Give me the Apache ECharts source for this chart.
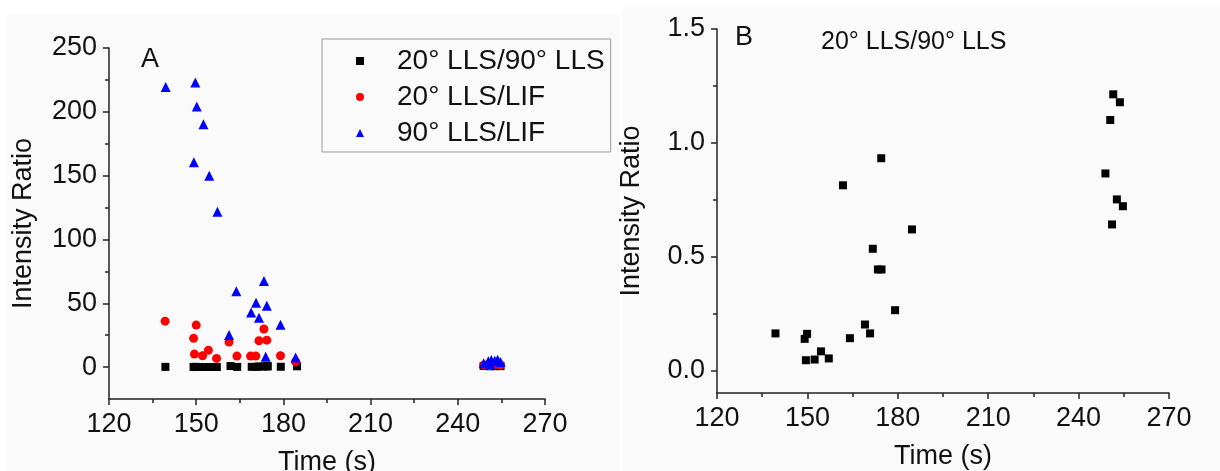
<!DOCTYPE html>
<html>
<head>
<meta charset="utf-8">
<script src="https://cdn.jsdelivr.net/npm/echarts@6/dist/echarts.min.js"></script>
<style>
  html, body { margin: 0; padding: 0; background: #fff; }
  #chart { width: 1220px; height: 471px; }
</style>
</head>
<body>
<div id="chart"></div>
<script>
// 20° LLS / 90° LLS  [time (s), ratio]  -- same data in panel A and B
var lls20_90 = [
  [139.4, 0.162], [149.1, 0.138], [149.9, 0.160], [149.5, 0.044], [152.4, 0.047],
  [154.5, 0.083], [157.1, 0.052], [161.8, 0.813], [164.1, 0.141], [169.1, 0.201],
  [170.8, 0.162], [171.7, 0.534], [173.4, 0.443], [174.5, 0.932], [174.6, 0.443],
  [179.1, 0.264], [184.7, 0.619], [248.9, 0.865], [250.5, 1.100], [251.1, 0.641],
  [251.5, 1.213], [252.7, 0.751], [253.7, 1.178], [254.7, 0.721]
];
// 20° LLS / LIF
var lls20_lif = [
  [139.3, 36.0], [150.0, 32.9], [149.1, 22.5], [149.4, 10.2], [152.2, 8.9],
  [154.2, 13.1], [157.0, 6.8], [161.3, 19.6], [164.0, 8.6], [168.7, 8.6],
  [170.5, 8.6], [171.6, 20.6], [174.3, 21.1], [173.3, 29.8], [179.0, 8.9],
  [184.2, 4.2], [248.9, 1.5], [250.5, 2.2], [251.1, 1.2], [251.5, 2.5],
  [252.7, 1.8], [253.7, 2.6], [254.7, 1.6]
];
// 90° LLS / LIF
var lls90_lif = [
  [139.5, 219.4], [149.7, 223.0], [150.2, 204.2], [152.5, 190.3], [149.2, 160.5],
  [154.5, 150.0], [157.3, 121.7], [163.8, 59.5], [173.3, 67.4], [170.6, 50.4],
  [174.3, 48.0], [168.9, 42.8], [171.6, 38.6], [179.0, 33.2], [161.3, 25.1],
  [173.9, 8.1], [184.2, 7.6], [248.9, 3.0], [250.5, 4.5], [251.1, 2.5],
  [251.5, 5.5], [252.7, 5.0], [253.7, 5.8], [254.7, 4.0]
];

var xMajor = [120, 150, 180, 210, 240, 270];
var xMinor = [135, 165, 195, 225, 255];
var yMajorA = [0, 50, 100, 150, 200, 250];
var yMinorA = [25, 75, 125, 175, 225];
var yMajorB = [0, 0.5, 1.0, 1.5];
var yMinorB = [0.25, 0.75, 1.25];

var axisColor = '#222';
var fontFamily = '"Liberation Sans", Arial, sans-serif';
var labelFont = { fontSize: 27, color: '#111', fontFamily: fontFamily };

var rectA = { left: 109, top: 48, width: 436, height: 351, outerBoundsMode: 'none' };
var rectB = { left: 717, top: 29, width: 452, height: 364, outerBoundsMode: 'none' };

function majorX(grid, name, gap) {
  return {
    type: 'value', gridIndex: grid, position: 'bottom', min: 120, max: 270,
    name: name, nameLocation: 'middle', nameGap: gap,
    nameTextStyle: labelFont,
    splitLine: { show: false },
    axisLine: { onZero: false, lineStyle: { color: axisColor, width: 1.5 } },
    axisTick: { length: 6, customValues: xMajor, lineStyle: { color: axisColor, width: 1.5 } },
    axisLabel: Object.assign({ margin: 12, customValues: xMajor }, labelFont)
  };
}
// minor ticks live on a copy of the grid, same place, ticks only
function minorX(grid) {
  return {
    type: 'value', gridIndex: grid, position: 'bottom', min: 120, max: 270,
    splitLine: { show: false },
    axisLine: { show: false, onZero: false },
    axisTick: { length: 4, customValues: xMinor, lineStyle: { color: axisColor, width: 1.5 } },
    axisLabel: { show: false }
  };
}
function majorY(grid, min, max, vals, fmt, gap) {
  return {
    type: 'value', gridIndex: grid, position: 'left', min: min, max: max,
    name: 'Intensity Ratio', nameLocation: 'middle', nameGap: gap,
    nameTextStyle: labelFont,
    splitLine: { show: false },
    axisLine: { onZero: false, lineStyle: { color: axisColor, width: 1.5 } },
    axisTick: { length: 6, customValues: vals, lineStyle: { color: axisColor, width: 1.5 } },
    axisLabel: Object.assign({ margin: 12, customValues: vals, formatter: fmt }, labelFont)
  };
}
function minorY(grid, min, max, vals) {
  return {
    type: 'value', gridIndex: grid, position: 'left', min: min, max: max,
    splitLine: { show: false },
    axisLine: { show: false, onZero: false },
    axisTick: { length: 4, customValues: vals, lineStyle: { color: axisColor, width: 1.5 } },
    axisLabel: { show: false }
  };
}

var chart = echarts.init(document.getElementById('chart'));
chart.setOption({
  animation: false,
  backgroundColor: '#fff',
  textStyle: { fontFamily: fontFamily },
  graphic: [
    { type: 'rect', z: -10, shape: { x: 7, y: 14, width: 613, height: 457 }, style: { fill: '#fafafa' } },
    { type: 'rect', z: -10, shape: { x: 622, y: 7, width: 598, height: 464 }, style: { fill: '#fafafa' } },
    { type: 'text', left: 141, top: 46, style: { text: 'A', fontSize: 27, fill: '#111', fontFamily: fontFamily } },
    { type: 'text', left: 735, top: 24, style: { text: 'B', fontSize: 27, fill: '#111', fontFamily: fontFamily } },
    { type: 'text', left: 821, top: 30, style: { text: '20° LLS/90° LLS', fontSize: 25, fill: '#111', fontFamily: fontFamily } }
  ],
  legend: {
    left: 322, top: 39,
    orient: 'vertical',
    padding: [8, 6, 5, 34],
    itemGap: 8,
    itemWidth: 8, itemHeight: 8,
    borderColor: '#999', borderWidth: 1,
    textStyle: { fontSize: 28, lineHeight: 26, color: '#111', fontFamily: fontFamily, padding: [0, 0, 0, 28] },
    data: ['20° LLS/90° LLS', '20° LLS/LIF', '90° LLS/LIF']
  },
  grid: [rectA, rectB, rectA, rectB],
  xAxis: [
    majorX(0, 'Time (s)', 50),
    majorX(1, 'Time (s)', 50),
    minorX(2),
    minorX(3)
  ],
  yAxis: [
    majorY(0, -25, 250, yMajorA, function (v) { return String(v); }, 72),
    majorY(1, -0.1, 1.5, yMajorB, function (v) { return v.toFixed(1); }, 72),
    minorY(2, -25, 250, yMinorA),
    minorY(3, -0.1, 1.5, yMinorB)
  ],
  series: [
    {
      name: '20° LLS/90° LLS', type: 'scatter', xAxisIndex: 0, yAxisIndex: 0,
      symbol: 'rect', symbolSize: 8, itemStyle: { color: '#000', opacity: 1 },
      data: lls20_90
    },
    {
      name: '20° LLS/LIF', type: 'scatter', xAxisIndex: 0, yAxisIndex: 0,
      symbol: 'circle', symbolSize: 9, itemStyle: { color: '#ff0000', opacity: 1 },
      data: lls20_lif
    },
    {
      name: '90° LLS/LIF', type: 'scatter', xAxisIndex: 0, yAxisIndex: 0,
      symbol: 'triangle', symbolSize: 10, itemStyle: { color: '#0000ff', opacity: 1 },
      data: lls90_lif
    },
    {
      name: 'B', type: 'scatter', xAxisIndex: 1, yAxisIndex: 1,
      symbol: 'rect', symbolSize: 8, itemStyle: { color: '#000', opacity: 1 },
      data: lls20_90
    }
  ]
});
</script>
</body>
</html>
